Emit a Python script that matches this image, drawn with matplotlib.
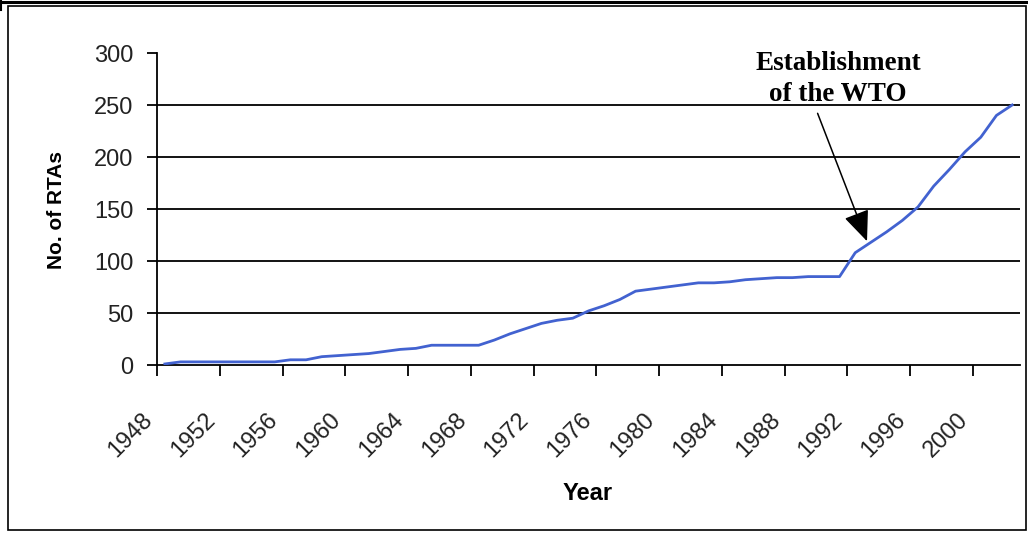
import matplotlib.pyplot as plt
from matplotlib.lines import Line2D
from matplotlib.patches import Rectangle
from matplotlib.transforms import ScaledTranslation

# cumulative number of regional trade agreements per year
years = list(range(1948, 2003))
rtas = [1, 3, 3, 3, 3, 3, 3, 3, 5, 5,           # 1948-1957
        8, 9, 10, 11, 13, 15, 16, 19, 19, 19,    # 1958-1967
        19, 24, 30, 35, 40, 43, 45, 52, 57, 63,  # 1968-1977
        71, 73, 75, 77, 79, 79, 80, 82, 83, 84,  # 1978-1987
        84, 85, 85, 85, 108, 118, 128, 139, 152, 172,  # 1988-1997
        188, 205, 219, 240, 250]                 # 1998-2002
label_years = list(range(1948, 2001, 4))
y_ticks = [0, 50, 100, 150, 200, 250, 300]

W, H = 1028, 540
fig = plt.figure(figsize=(W / 100, H / 100), dpi=100, facecolor="white")
plt.rcParams["font.family"] = ["Liberation Sans", "DejaVu Sans"]

def px(x, y):
    return x / W, 1 - y / H

# frame around the chart
fig.add_artist(Line2D([0, 1], [1 - 1.5 / H] * 2, transform=fig.transFigure, color="black", lw=2.2))
fig.add_artist(Line2D([1 / W] * 2, [1, 1 - 10 / H], transform=fig.transFigure, color="black", lw=1.5))
x0, y0 = px(8, 530)
x1, y1 = px(1026, 6)
fig.add_artist(Rectangle((x0, y0), x1 - x0, y1 - y0, transform=fig.transFigure,
                         fill=False, edgecolor="black", lw=1.2))

left, right = 157 / W, 1020 / W
bottom, top = 1 - 365 / H, 1 - 53 / H
ax = fig.add_axes([left, bottom, right - left, top - bottom])

for v in y_ticks[1:-1]:
    ax.axhline(v, color="black", lw=1.3, zorder=1)

ax.plot(years, rtas, color="#4262d0", lw=2, zorder=3)

ax.set_xlim(1947.5, 2002.5)
ax.set_ylim(0, 300)
ax.spines["top"].set_visible(False)
ax.spines["right"].set_visible(False)
ax.spines["left"].set_linewidth(1.3)
ax.spines["bottom"].set_linewidth(1.3)

ax.set_yticks(y_ticks)
ax.tick_params(axis="y", direction="out", length=7, width=1.3, pad=10, labelsize=17,
               labelcolor="#222222")

# tick marks sit between categories, labels under every fourth year
ax.set_xticks([y - 0.5 for y in label_years])
ax.set_xticklabels([str(y) for y in label_years], rotation=45, ha="right",
                   va="center", rotation_mode="anchor")
ax.tick_params(axis="x", direction="out", length=8, width=1.3, pad=29, labelsize=17,
               labelcolor="#222222")
shift = ScaledTranslation(-8 / 100, 0, fig.dpi_scale_trans)
for lbl in ax.get_xticklabels():
    lbl.set_transform(lbl.get_transform() + shift)

fig.text(*px(57, 210), "No. of RTAs", rotation=90, ha="center", va="center",
         fontsize=15, fontweight="bold")
fig.text(*px(588, 493), "Year", ha="center", va="center", fontsize=17, fontweight="bold")

ax.text(1990.9, 275, "Establishment\nof the WTO", ha="center", va="center",
        family=["Liberation Serif", "DejaVu Serif"], fontweight="bold", fontsize=19.5,
        linespacing=1.3, zorder=4)
ax.annotate("", xy=(1992.75, 119), xytext=(1989.6, 242),
            arrowprops=dict(arrowstyle="-|>,head_length=1.9,head_width=0.8",
                            color="black", lw=1.1, shrinkA=0, shrinkB=0), zorder=4)

fig.savefig("out.png", dpi=100, facecolor="white")
